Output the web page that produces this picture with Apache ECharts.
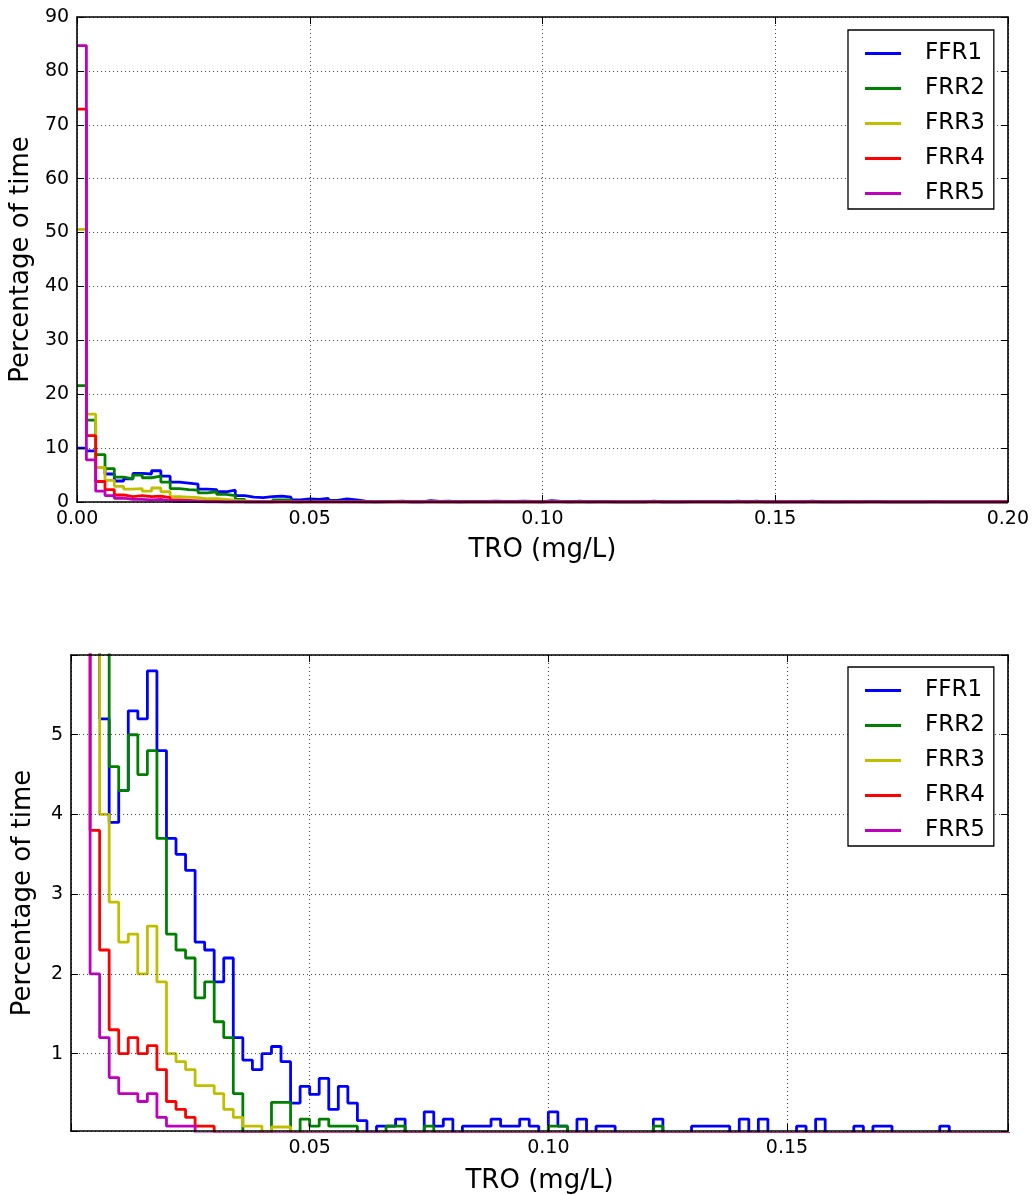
<!DOCTYPE html>
<html>
<head>
<meta charset="utf-8">
<script src="https://cdn.jsdelivr.net/npm/echarts@6/dist/echarts.min.js"></script>
<style>
html, body { margin: 0; padding: 0; background: #ffffff; }
#chart { width: 1032px; height: 1195px; }
</style>
</head>
<body>
<div id="chart"></div>
<script>
// ---------------- data (percentage of time per TRO bin, bins of 0.002 mg/L) ----------------
const seriesNames = ['FFR1', 'FRR2', 'FRR3', 'FRR4', 'FRR5'];
const binWidth = 0.002;

const FFR1 = [
  10.0, 9.5, 6.4, 5.2, 3.9, 4.3, 5.3, 5.2, 5.8, 4.8,
  3.7, 3.5, 3.3, 2.4, 2.3, 1.9, 2.2, 1.2, 0.92, 0.8,
  1.0, 1.09, 0.9, 0.38, 0.59, 0.49, 0.69, 0.3, 0.59, 0.38,
  0.16, 0, 0.09, 0.09, 0.18, 0, 0, 0.27, 0.09, 0.18,
  0, 0.09, 0.09, 0.09, 0.18, 0.09, 0.09, 0.18, 0.09, 0,
  0.27, 0.09, 0, 0.18, 0, 0.09, 0.09, 0, 0, 0,
  0, 0.18, 0, 0, 0, 0.09, 0.09, 0.09, 0.09, 0,
  0.18, 0, 0.18, 0, 0, 0, 0.09, 0, 0.18, 0,
  0, 0, 0.09, 0, 0.09, 0.09, 0, 0, 0, 0,
  0, 0.09, 0, 0, 0, 0, 0, 0, 0, 0
];
const FRR2 = [
  21.6, 15.2, 8.8, 6.2, 4.6, 4.3, 5.0, 4.5, 4.8, 3.7,
  2.5, 2.3, 2.2, 1.7, 1.9, 1.4, 1.2, 0.5, 0, 0,
  0, 0.39, 0.39, 0, 0.18, 0.09, 0.18, 0.09, 0.09, 0.09,
  0, 0, 0, 0.09, 0.09, 0, 0, 0.09, 0, 0,
  0, 0, 0, 0, 0, 0, 0, 0, 0, 0,
  0.09, 0.09, 0, 0, 0, 0, 0, 0, 0, 0,
  0, 0.09, 0, 0, 0, 0, 0, 0, 0, 0,
  0, 0, 0, 0, 0, 0, 0, 0, 0, 0,
  0, 0, 0, 0, 0, 0, 0, 0, 0, 0,
  0, 0, 0, 0, 0, 0, 0, 0, 0, 0
];
const FRR3 = [
  50.6, 16.3, 6.4, 4.0, 2.9, 2.4, 2.5, 2.0, 2.6, 1.9,
  1.0, 0.9, 0.8, 0.6, 0.6, 0.5, 0.3, 0.2, 0.09, 0.09,
  0, 0.08, 0.08, 0, 0, 0, 0, 0, 0, 0,
  0, 0, 0, 0, 0, 0, 0, 0, 0, 0,
  0, 0, 0, 0, 0, 0, 0, 0, 0, 0,
  0, 0, 0, 0, 0, 0, 0, 0, 0, 0,
  0, 0, 0, 0, 0, 0, 0, 0, 0, 0,
  0, 0, 0, 0, 0, 0, 0, 0, 0, 0,
  0, 0, 0, 0, 0, 0, 0, 0, 0, 0,
  0, 0, 0, 0, 0, 0, 0, 0, 0, 0
];
const FRR4 = [
  72.9, 12.3, 3.8, 2.3, 1.3, 1.0, 1.2, 1.0, 1.1, 0.8,
  0.4, 0.3, 0.2, 0.09, 0.09, 0, 0, 0, 0, 0,
  0, 0, 0, 0, 0, 0, 0, 0, 0, 0,
  0, 0, 0, 0, 0, 0, 0, 0, 0, 0,
  0, 0, 0, 0, 0, 0, 0, 0, 0, 0,
  0, 0, 0, 0, 0, 0, 0, 0, 0, 0,
  0, 0, 0, 0, 0, 0, 0, 0, 0, 0,
  0, 0, 0, 0, 0, 0, 0, 0, 0, 0,
  0, 0, 0, 0, 0, 0, 0, 0, 0, 0,
  0, 0, 0, 0, 0, 0, 0, 0, 0, 0
];
const FRR5 = [
  84.7, 7.8, 2.0, 1.2, 0.7, 0.5, 0.5, 0.4, 0.5, 0.2,
  0.09, 0.09, 0.09, 0, 0, 0, 0, 0, 0, 0,
  0, 0, 0, 0, 0, 0, 0, 0, 0, 0,
  0, 0, 0, 0, 0, 0, 0, 0, 0, 0,
  0, 0, 0, 0, 0, 0, 0, 0, 0, 0,
  0, 0, 0, 0, 0, 0, 0, 0, 0, 0,
  0, 0, 0, 0, 0, 0, 0, 0, 0, 0,
  0, 0, 0, 0, 0, 0, 0, 0, 0, 0,
  0, 0, 0, 0, 0, 0, 0, 0, 0, 0,
  0, 0, 0, 0, 0, 0, 0, 0, 0, 0
];

const topXTicks = [0, 0.05, 0.10, 0.15, 0.20];
const topYTicks = [0, 10, 20, 30, 40, 50, 60, 70, 80, 90];
const bottomXTicks = [0.05, 0.10, 0.15];
const bottomYTicks = [1, 2, 3, 4, 5];
const xAxisTitle = 'TRO (mg/L)';
const yAxisTitle = 'Percentage of time';

// ---------------- styling ----------------
const FONT = 'DejaVu Sans';
const colors = ['#0000ff', '#008000', '#bfbf00', '#ff0000', '#bf00bf'];
const allValues = [FFR1, FRR2, FRR3, FRR4, FRR5];

// step outline of a histogram: each bin starts at i*binWidth, closes at the right end
function stepData(vals) {
  const pts = [];
  vals.forEach((v, i) => pts.push([i * binWidth, v]));
  pts.push([vals.length * binWidth, 0]);
  return pts;
}
function inList(list, v) {
  return list.some(t => Math.abs(t - v) < 1e-9);
}

const spine = { show: true, onZero: false, lineStyle: { color: '#000', width: 1.6 } };
const tick = { show: true, inside: true, length: 7, lineStyle: { color: '#000', width: 1 } };
const grid = { show: true, lineStyle: { color: '#444', width: 1, type: [1, 3] } };
const labelStyle = { color: '#000', fontSize: 19, fontFamily: FONT };
const nameStyle = { color: '#000', fontSize: 26, fontFamily: FONT };

function xAxes(gridIndex, min, max, interval, tickList, fmt, nameGap) {
  return [
    {
      type: 'value', gridIndex, position: 'bottom', min, max, interval, z: 3,
      axisLine: spine, axisTick: tick,
      axisLabel: Object.assign({ margin: 8, formatter: v => inList(tickList, v) ? fmt(v) : '' }, labelStyle),
      splitLine: grid,
      name: xAxisTitle, nameLocation: 'middle', nameGap, nameTextStyle: nameStyle
    },
    {
      type: 'value', gridIndex, position: 'top', min, max, interval, z: 3,
      axisLine: spine, axisTick: tick, axisLabel: { show: false }, splitLine: { show: false }
    }
  ];
}
function yAxes(gridIndex, min, max, interval, tickList, nameGap) {
  const base = { type: 'value', gridIndex, min, max, z: 3 };
  if (interval !== null) base.interval = interval;
  if (interval === null) base.splitNumber = 6;
  return [
    Object.assign({}, base, {
      position: 'left',
      axisLine: spine, axisTick: tick,
      axisLabel: Object.assign({ margin: 8, formatter: v => inList(tickList, v) ? String(Math.round(v)) : '' }, labelStyle),
      splitLine: grid,
      name: yAxisTitle, nameLocation: 'middle', nameGap, nameRotate: 90, nameTextStyle: nameStyle
    }),
    Object.assign({}, base, {
      position: 'right',
      axisLine: spine, axisTick: tick, axisLabel: { show: false }, splitLine: { show: false }
    })
  ];
}

const series = [];
[0, 1].forEach(g => {
  seriesNames.forEach((name, i) => {
    series.push({
      name, type: 'line', step: 'end',
      xAxisIndex: g * 2, yAxisIndex: g * 2,
      data: stepData(allValues[i]),
      showSymbol: false, symbol: 'none',
      lineStyle: { color: colors[i], width: 2.8 },
      itemStyle: { color: colors[i] },
      clip: true, z: 2
    });
  });
});

function legend(top) {
  return {
    data: seriesNames, orient: 'vertical', left: 848, top,
    padding: [12, 9, 4, 17], itemGap: 12, itemWidth: 36, itemHeight: 3,
    icon: 'rect', borderColor: '#000', borderWidth: 1.3, backgroundColor: '#fff',
    itemStyle: { borderWidth: 0 },
    formatter: n => '{n|' + n + '}',
    textStyle: {
      color: '#000', fontFamily: FONT, fontSize: 23,
      rich: { n: { color: '#000', fontFamily: FONT, fontSize: 23, padding: [0, 0, 0, 19] } }
    },
    selectedMode: false
  };
}

const option = {
  animation: false,
  backgroundColor: '#fff',
  grid: [
    { left: 71, top: 17, width: 937, height: 485 },
    { left: 71, top: 655, width: 937, height: 484 }
  ],
  xAxis: [].concat(
    xAxes(0, 0, 0.2, 0.05, topXTicks, v => v.toFixed(2), 35),
    xAxes(1, 0, 0.1963, 0.05, bottomXTicks, v => v.toFixed(2), 37)
  ),
  yAxis: [].concat(
    yAxes(0, 0, 90, 10, topYTicks, 38),
    yAxes(1, 0.03, 6.0, null, bottomYTicks, 35)
  ),
  legend: [legend(30), legend(667)],
  series
};

const chart = echarts.init(document.getElementById('chart'), null, { renderer: 'canvas' });
chart.setOption(option);
</script>
</body>
</html>
